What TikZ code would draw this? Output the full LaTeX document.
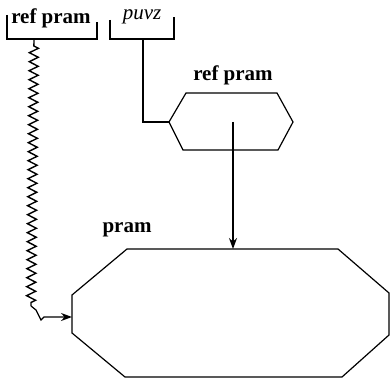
\documentclass[tikz,border=0pt]{standalone}
\usepackage{fontspec}
\setmainfont{Liberation Serif}
\usetikzlibrary{decorations.pathmorphing,arrows.meta}
\begin{document}
\begin{tikzpicture}[x=1pt,y=-1pt,line width=1.2pt,
  lbl/.style={font=\fontsize{21}{24}\selectfont\bfseries, inner sep=0pt},
  ilbl/.style={font=\fontsize{21}{24}\selectfont\itshape, inner sep=0pt},
  arr/.style={-{Stealth[length=11pt,width=8pt]}},
  wavy/.style={decorate, decoration={zigzag, segment length=9pt, amplitude=4.5pt, pre length=7pt}}]
\useasboundingbox (0,0) rectangle (390,379);
% brackets
\draw (7,15) -- (7,39) -- (97,39) -- (97,22);
\node[lbl] (r1) at (51,18) {ref pram};
\coordinate (b1) at (34,39);
\draw (110,20) -- (110,39) -- (174,39) -- (174,17);
\node[ilbl] (pv) at (142,17) {puvz};
\coordinate (b2) at (143,39);
% hexagon
\draw (186,93) -- (277,93) -- (293,122) -- (278,150) -- (183,150) -- (169,122) -- cycle;
\coordinate (hexL) at (169,122);
\coordinate (hexC) at (233,122);
\node[lbl] (hl) at (233,75) {ref pram};
% octagon
\draw (127,249) -- (338,249) -- (389,293) -- (389,335) -- (342,377) -- (125,377) -- (72,333) -- (72,295) -- cycle;
\coordinate (octT) at (233,249);
\coordinate (octL) at (72,317);
\node[lbl] (ol) at (127,230) {pram};
% connectors
\draw (b2) -- (143,122) -- (hexL);
\draw[arr] (hexC) -- (octT);
\coordinate (zend) at (31,306);
\draw[wavy, line width=1.4pt] (b1) -- (zend);
\draw[arr] (zend) -- (36,310) -- (41,320) -- (44,317) -- (octL);
\end{tikzpicture}
\end{document}
